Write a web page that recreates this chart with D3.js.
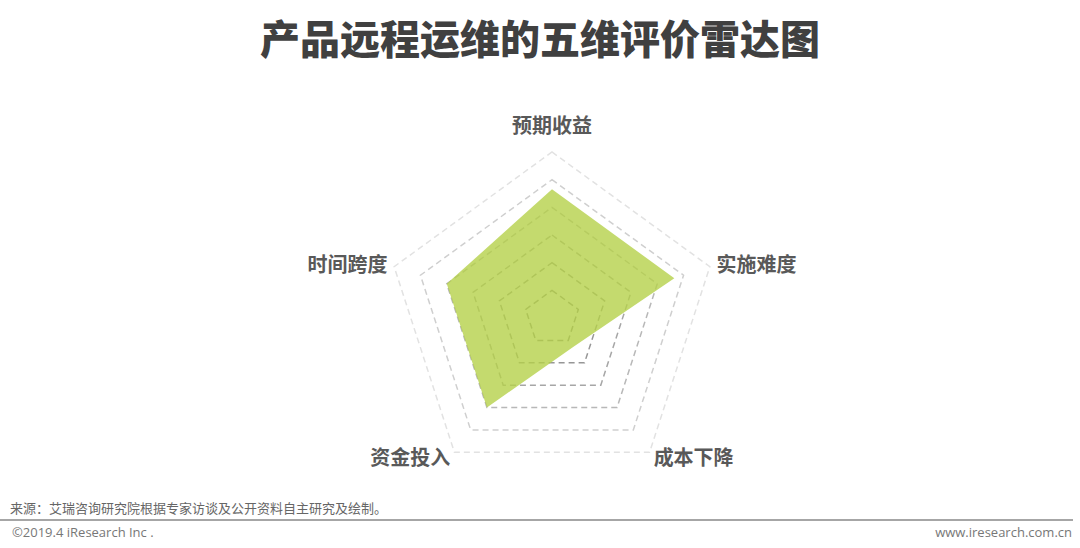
<!DOCTYPE html>
<html>
<head>
<meta charset="utf-8">
<script src="https://cdn.jsdelivr.net/npm/d3@7"></script>
<style>
  body { margin: 0; background: #fff; }
  svg { display: block; font-family: "Noto Sans CJK SC", "Microsoft YaHei", sans-serif; }
</style>
</head>
<body>
<svg width="1080" height="548"></svg>
<script>
var axes = ["预期收益", "实施难度", "成本下降", "资金投入", "时间跨度"];
var scores = [4.65, 4.65, 1.3, 4, 4];
var levels = [1, 2, 3, 4, 5, 6];
var levelColors = ["#8c8c8c", "#969696", "#a6a6a6", "#b8b8b8", "#cfcfcf", "#e2e2e2"];

var svg = d3.select("svg"),
    cx = 552, cy = 318, radius = 166;

var r = d3.scaleLinear().domain([0, 6]).range([0, radius]);
var angle = d3.scalePoint().domain(axes.concat(["_"])).range([0, 2 * Math.PI]);

function pt(a, v) {
  var t = angle(a);
  return [cx + r(v) * Math.sin(t), cy - r(v) * Math.cos(t)];
}

var radar = d3.line().curve(d3.curveLinearClosed);

// title
svg.append("text")
    .attr("x", 540)
    .attr("y", 54)
    .attr("text-anchor", "middle")
    .attr("font-size", 40)
    .attr("font-weight", 900)
    .attr("fill", "#404040")
    .text("产品远程运维的五维评价雷达图");

// grid rings
svg.append("g").selectAll("path")
  .data(levels)
  .enter().append("path")
    .attr("d", function(l) { return radar(axes.map(function(a) { return pt(a, l); })); })
    .attr("fill", "none")
    .attr("stroke", function(l, i) { return levelColors[i]; })
    .attr("stroke-width", 1.5)
    .attr("stroke-dasharray", "6 4");

// value area
svg.append("path")
    .attr("d", radar(axes.map(function(a, i) { return pt(a, scores[i]); })))
    .attr("fill", "#b5d14a")
    .attr("fill-opacity", 0.8)
    .attr("stroke", "none");

// axis labels
svg.append("g").selectAll("text")
  .data(axes)
  .enter().append("text")
    .attr("x", function(a) { return pt(a, 6.25)[0]; })
    .attr("y", function(a) { var p = pt(a, 6.25); return angle(a) === 0 ? p[1] - 19 : p[1]; })
    .attr("dy", "0.35em")
    .attr("text-anchor", function(a) {
      var s = Math.sin(angle(a));
      return Math.abs(s) < 0.01 ? "middle" : (s > 0 ? "start" : "end");
    })
    .attr("font-size", 20)
    .attr("font-weight", "bold")
    .attr("fill", "#595959")
    .text(function(a) { return a; });

// footer
svg.append("text")
    .attr("x", 10)
    .attr("y", 513)
    .attr("font-size", 13)
    .attr("fill", "#666")
    .text("来源：艾瑞咨询研究院根据专家访谈及公开资料自主研究及绘制。");

svg.append("line")
    .attr("x1", 0).attr("x2", 1073)
    .attr("y1", 520).attr("y2", 520)
    .attr("stroke", "#888")
    .attr("stroke-width", 1.5);

svg.append("text")
    .attr("x", 12)
    .attr("y", 537)
    .attr("font-size", 13)
    .attr("font-family", "'Open Sans', sans-serif")
    .attr("fill", "#777")
    .text("©2019.4 iResearch Inc .");

svg.append("text")
    .attr("x", 1072)
    .attr("y", 537)
    .attr("text-anchor", "end")
    .attr("font-size", 13)
    .attr("font-family", "'Open Sans', sans-serif")
    .attr("fill", "#777")
    .text("www.iresearch.com.cn");
</script>
</body>
</html>
